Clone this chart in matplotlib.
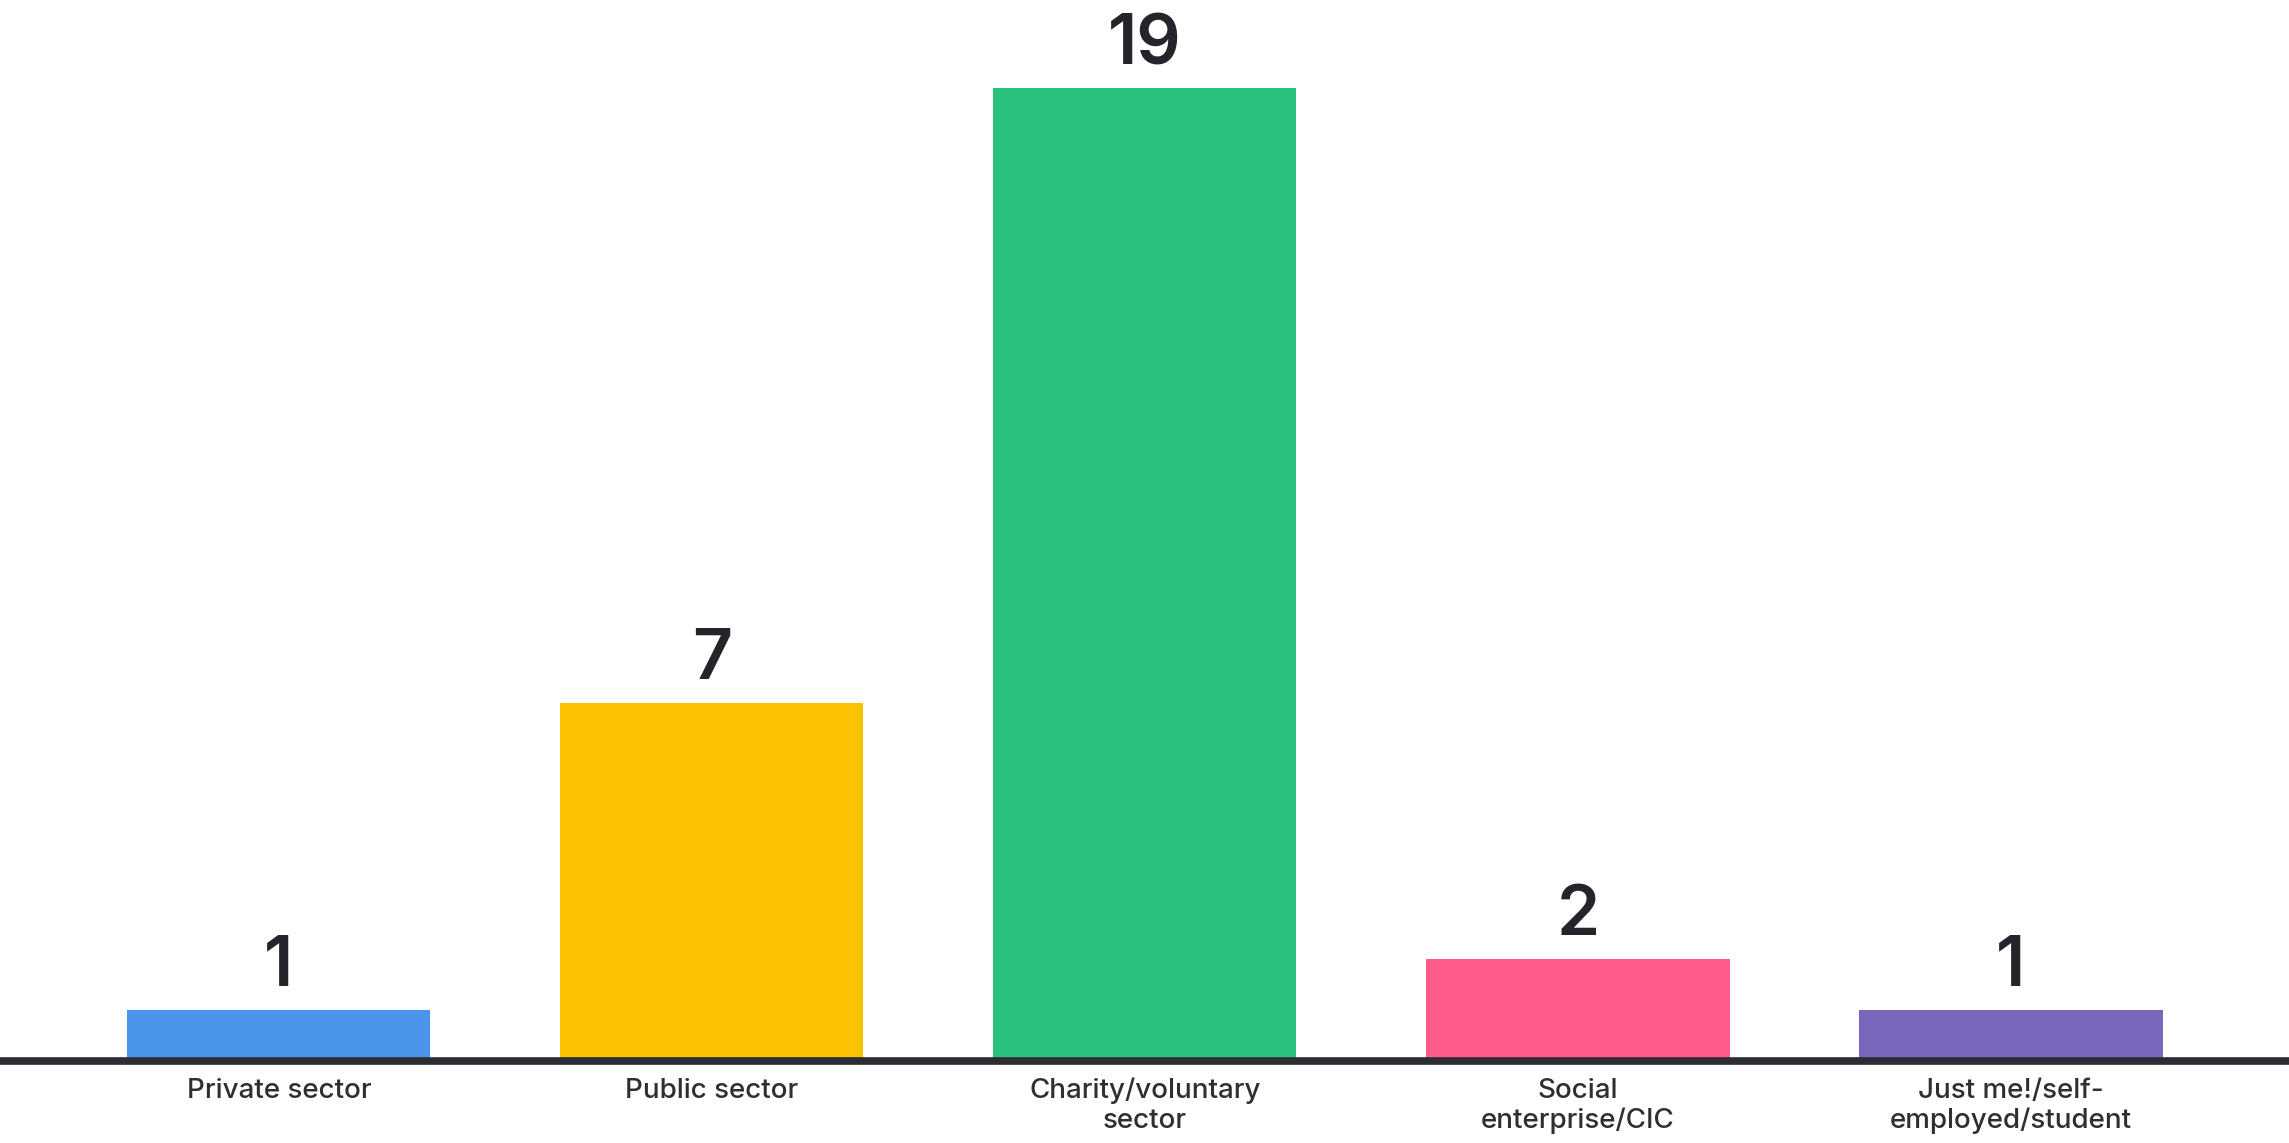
import matplotlib.pyplot as plt

categories = ["Private sector", "Public sector", "Charity/voluntary\nsector",
              "Social\nenterprise/CIC", "Just me!/self-\nemployed/student"]
counts = [1, 7, 19, 2, 1]
colors = ["#4a94ec", "#fcc200", "#28c17d", "#ff5a8a", "#7b66bd"]

plt.rcParams['font.family'] = ['Inter', 'DejaVu Sans']

fig = plt.figure(figsize=(22.89, 11.43), dpi=100)
ax = fig.add_axes([0, 0.0717, 1, 0.9283])

x = range(len(categories))
bars = ax.bar(x, counts, width=0.70, color=colors, zorder=2)

for xi, v in zip(x, counts):
    ax.annotate(str(v), (xi, v), xytext=(0, 17), textcoords='offset points',
                ha='center', va='baseline', fontsize=50, fontweight='semibold',
                color='#23252b')

ax.set_xlim(-0.644, 4.642)
ax.set_ylim(0, 20.72)
ax.set_xticks(list(x))
ax.set_xticklabels(categories, fontsize=20, color='#2e2e33', linespacing=1.2,
                   fontweight='medium')
ax.tick_params(axis='x', length=0, pad=12)
ax.set_yticks([])

for s in ['top', 'right', 'left']:
    ax.spines[s].set_visible(False)
ax.spines['bottom'].set_linewidth(5.5)
ax.spines['bottom'].set_color('#2b2d33')
ax.spines['bottom'].set_zorder(3)

plt.savefig("out.png", dpi=100)
